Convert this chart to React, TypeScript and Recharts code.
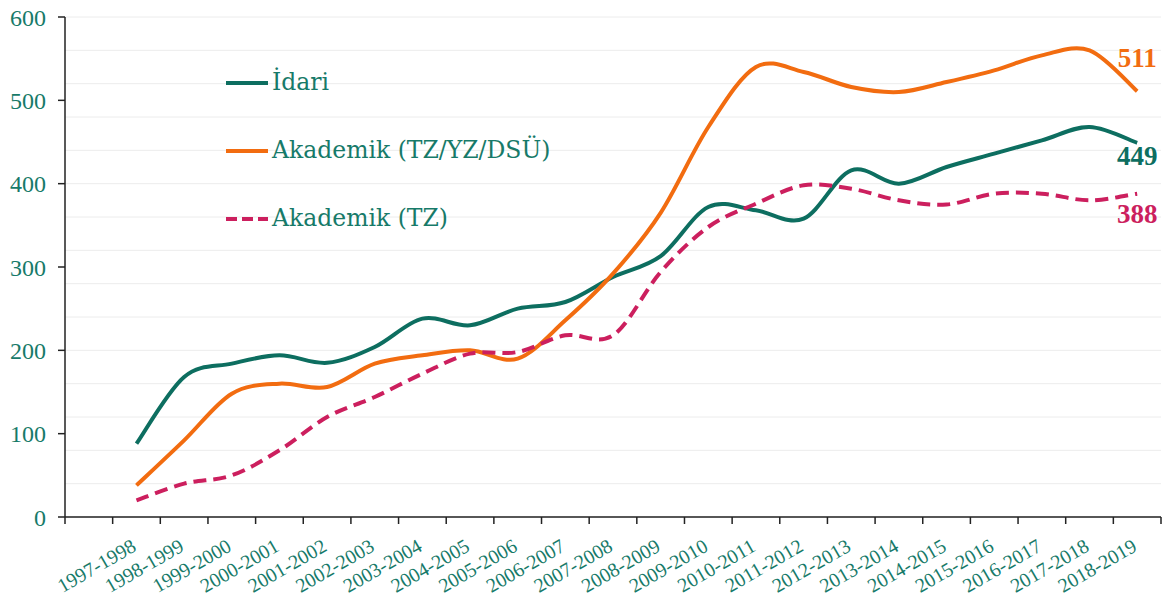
import { LineChart, Line, XAxis, YAxis, CartesianGrid, LabelList } from "recharts"

const categories = [
  "1997-1998", "1998-1999", "1999-2000", "2000-2001", "2001-2002", "2002-2003",
  "2003-2004", "2004-2005", "2005-2006", "2006-2007", "2007-2008", "2008-2009",
  "2009-2010", "2010-2011", "2011-2012", "2012-2013", "2013-2014", "2014-2015",
  "2015-2016", "2016-2017", "2017-2018", "2018-2019",
]
const idari = [88, 168, 184, 194, 185, 204, 238, 230, 250, 258, 288, 313, 372, 368, 358, 416, 400, 420, 436, 452, 468, 449]
const akademik = [38, 92, 148, 160, 156, 184, 194, 200, 190, 236, 292, 365, 468, 540, 534, 516, 510, 522, 536, 554, 560, 511]
const akademikTz = [20, 40, 50, 80, 120, 144, 172, 196, 198, 218, 218, 294, 348, 376, 398, 394, 380, 375, 388, 388, 380, 388]
const yTicks = [0, 100, 200, 300, 400, 500, 600]
const gridValues = Array.from({ length: 31 }, (_, i) => i * 20)

const TEAL = "#0d6e60"
const TEXT = "#177a69"
const ORANGE = "#f26c10"
const PINK = "#cc1f5e"
const SERIF = "'Liberation Serif', 'Times New Roman', serif"

const data = categories.map((name, i) => ({
  idx: i,
  name,
  idari: idari[i],
  akademik: akademik[i],
  akademikTz: akademikTz[i],
}))

// category centres plus the band edges (where the tick marks sit)
const xTicks: number[] = []
for (let i = -3; i <= categories.length * 2 - 1; i++) xTicks.push(i / 2)

// Excel-like smoothed line (Catmull-Rom through the points)
// eslint-disable-next-line @typescript-eslint/no-explicit-any
function smoothCurve(context: any) {
  let pts: number[][] = []
  return {
    areaStart() {},
    areaEnd() {},
    lineStart() {
      pts = []
    },
    point(x: number, y: number) {
      pts.push([+x, +y])
    },
    lineEnd() {
      const n = pts.length
      if (!n) return
      context.moveTo(pts[0][0], pts[0][1])
      for (let i = 0; i < n - 1; i++) {
        const p0 = pts[Math.max(i - 1, 0)]
        const p1 = pts[i]
        const p2 = pts[i + 1]
        const p3 = pts[Math.min(i + 2, n - 1)]
        context.bezierCurveTo(
          p1[0] + (p2[0] - p0[0]) / 6,
          p1[1] + (p2[1] - p0[1]) / 6,
          p2[0] - (p3[0] - p1[0]) / 6,
          p2[1] - (p3[1] - p1[1]) / 6,
          p2[0],
          p2[1]
        )
      }
    },
  }
}

// eslint-disable-next-line @typescript-eslint/no-explicit-any
function XTick({ x, y, payload }: any) {
  const v = payload.value
  if (!Number.isInteger(v)) {
    return <line x1={x} x2={x} y1={y} y2={y + 7} stroke="#222" strokeWidth={1.5} />
  }
  const tx = x + 1
  const ty = y + 33
  return (
    <text
      x={tx}
      y={ty}
      transform={`rotate(-30, ${tx}, ${ty})`}
      textAnchor="end"
      fill={TEXT}
      fontSize={20}
      fontFamily={SERIF}
    >
      {categories[v]}
    </text>
  )
}

function endLabel(color: string, dy: number) {
  // eslint-disable-next-line @typescript-eslint/no-explicit-any
  return (props: any) => {
    const { x, y, value, index } = props
    if (index !== categories.length - 1) return null
    return (
      <text
        x={x}
        y={y + dy}
        textAnchor="middle"
        fill={color}
        fontSize={27}
        fontWeight="bold"
        fontFamily={SERIF}
      >
        {value}
      </text>
    )
  }
}

const legendItems = [
  { label: "İdari", color: TEAL, dash: undefined },
  { label: "Akademik (TZ/YZ/DSÜ)", color: ORANGE, dash: undefined },
  { label: "Akademik (TZ)", color: PINK, dash: "11 5" },
]

function ChartLegend() {
  return (
    <div
      style={{
        position: "absolute",
        left: 226,
        top: 49,
        fontFamily: "'DejaVu Serif', serif",
        fontSize: 23.5,
        color: TEXT,
      }}
    >
      {legendItems.map((item) => (
        <div key={item.label} style={{ display: "flex", alignItems: "center", height: 68 }}>
          <svg width={44} height={8} style={{ marginRight: 2 }}>
            <line x1={0} x2={42} y1={4} y2={4} stroke={item.color} strokeWidth={4} strokeDasharray={item.dash} />
          </svg>
          <span style={{ lineHeight: 1 }}>{item.label}</span>
        </div>
      ))}
    </div>
  )
}

export default function App() {
  return (
    <div style={{ position: "absolute", left: 0, top: 0, width: 1174, height: 604, background: "#fff" }}>
      <LineChart width={1174} height={604} data={data} margin={{ top: 17, right: 13, left: 0, bottom: 0 }}>
        <CartesianGrid horizontal vertical={false} stroke="#ececec" horizontalValues={gridValues} />
        <XAxis
          dataKey="idx"
          type="number"
          domain={[-1.5, categories.length - 0.5]}
          ticks={xTicks}
          interval={0}
          tick={<XTick />}
          tickLine={false}
          tickSize={0}
          tickMargin={0}
          height={87}
          axisLine={{ stroke: "#222", strokeWidth: 1.5 }}
          allowDataOverflow
        />
        <YAxis
          domain={[0, 600]}
          ticks={yTicks}
          width={65}
          tick={{ fill: TEXT, fontSize: 24, fontFamily: SERIF }}
          tickSize={7}
          tickMargin={12}
          tickLine={{ stroke: "#222", strokeWidth: 1.5 }}
          axisLine={{ stroke: "#222", strokeWidth: 1.5 }}
        />
        <Line
          dataKey="idari"
          type={smoothCurve as any}
          stroke={TEAL}
          strokeWidth={4}
          dot={false}
          isAnimationActive={false}
        >
          <LabelList dataKey="idari" content={endLabel(TEAL, 22)} />
        </Line>
        <Line
          dataKey="akademik"
          type={smoothCurve as any}
          stroke={ORANGE}
          strokeWidth={4}
          dot={false}
          isAnimationActive={false}
        >
          <LabelList dataKey="akademik" content={endLabel(ORANGE, -24)} />
        </Line>
        <Line
          dataKey="akademikTz"
          type={smoothCurve as any}
          stroke={PINK}
          strokeWidth={4}
          strokeDasharray="13 7"
          dot={false}
          isAnimationActive={false}
        >
          <LabelList dataKey="akademikTz" content={endLabel(PINK, 29)} />
        </Line>
      </LineChart>
      <ChartLegend />
    </div>
  )
}
